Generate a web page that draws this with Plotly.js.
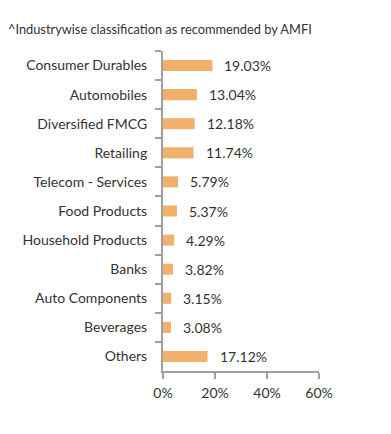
<!DOCTYPE html>
<html>
<head>
<meta charset="utf-8">
<script src="https://cdn.plot.ly/plotly-3.0.1.min.js"></script>
<style>html,body{margin:0;padding:0;background:#fff;}#chart{width:391px;height:434px;}</style>
</head>
<body>
<div id="chart"></div>
<script>
var categories = ["Consumer Durables","Automobiles","Diversified FMCG","Retailing","Telecom - Services","Food Products","Household Products","Banks","Auto Components","Beverages","Others"];
var values = [19.03, 13.04, 12.18, 11.74, 5.79, 5.37, 4.29, 3.82, 3.15, 3.08, 17.12];
var xTicks = [0, 20, 40, 60];
var xTickLabels = ["0%", "20%", "40%", "60%"];
var titleText = "^Industrywise classification as recommended by AMFI";

var font = "Lato, 'Open Sans', sans-serif";
var annotations = categories.map(function(c, i){
  return {x: values[i], y: c, xref: 'x', yref: 'y', text: values[i].toFixed(2) + '%',
    showarrow: false, xanchor: 'left', yanchor: 'middle', xshift: 10,
    font: {family: font, size: 14, color: '#333'}};
});

var trace = {
  type: 'bar', orientation: 'h', x: values, y: categories,
  marker: {color: '#F2B16A'}, hoverinfo: 'skip'
};

var layout = {
  width: 391, height: 434,
  margin: {l: 163, r: 72, t: 51, b: 63},
  paper_bgcolor: '#fff', plot_bgcolor: '#fff',
  bargap: 0.62,
  showlegend: false,
  font: {family: font, size: 14, color: '#333'},
  title: {text: titleText, xref: 'container', yref: 'container', x: 8/391, xanchor: 'left',
    y: 1 - 30/434, yanchor: 'middle', font: {family: font, size: 12.8, color: '#333'}},
  xaxis: {range: [0, 60], tickvals: xTicks, ticktext: xTickLabels, showgrid: false, zeroline: false,
    showline: true, linecolor: '#a0a0a0', linewidth: 2, ticks: 'outside', ticklen: 6, tickwidth: 2, tickcolor: '#a0a0a0',
    ticklabelstandoff: 2,
    tickfont: {family: font, size: 14, color: '#333'}, fixedrange: true},
  yaxis: {autorange: 'reversed', showgrid: false, zeroline: false, showline: true, linecolor: '#a0a0a0', linewidth: 2,
    ticks: 'outside', tickson: 'boundaries', ticklen: 6, tickwidth: 2, tickcolor: '#a0a0a0', ticklabelstandoff: 11,
    tickfont: {family: font, size: 14, color: '#333'}, fixedrange: true},
  annotations: annotations
};

Plotly.newPlot('chart', [trace], layout, {staticPlot: true, displayModeBar: false});
</script>
</body>
</html>
